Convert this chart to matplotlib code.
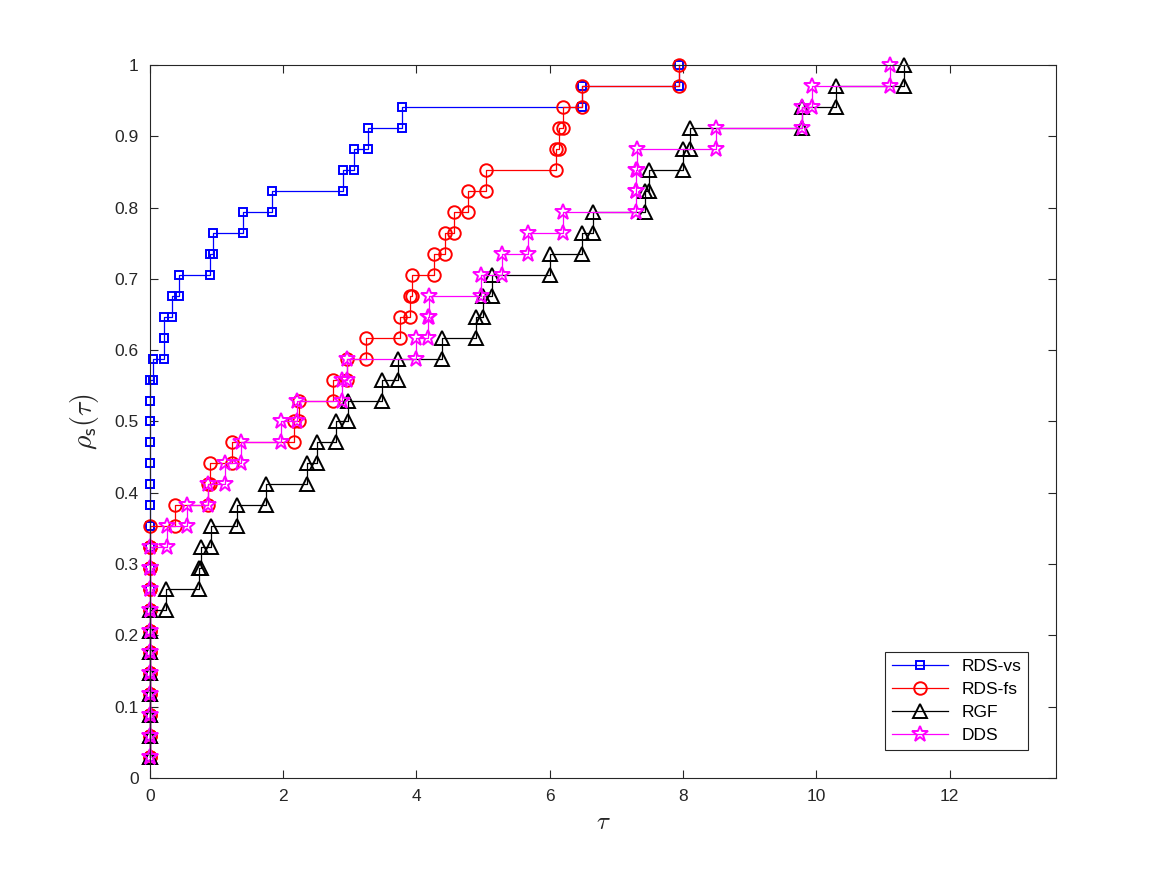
import numpy as np
import matplotlib
matplotlib.use('Agg')
import matplotlib.pyplot as plt

plt.rcParams['font.family'] = ['Liberation Sans', 'DejaVu Sans']
plt.rcParams['mathtext.fontset'] = 'cm'

n_problems = 34

# sorted performance ratios (tau) for each solver, one per problem
rds_vs = [0.0] * 19 + [0.05, 0.21, 0.21, 0.33, 0.44, 0.90, 0.95, 1.40, 1.83,
                       2.90, 3.06, 3.27, 3.78, 6.48, 7.94]
rds_fs = [0.0] * 12 + [0.38, 0.87, 0.90, 1.23, 2.16, 2.23, 2.74, 2.95, 3.24,
                       3.76, 3.91, 3.94, 4.26, 4.43, 4.56, 4.77, 5.05, 6.09,
                       6.14, 6.20, 6.48, 7.94]
rgf = [0.0] * 8 + [0.24, 0.73, 0.77, 0.92, 1.30, 1.74, 2.35, 2.51, 2.79, 2.97,
                   3.48, 3.73, 4.39, 4.90, 5.00, 5.14, 6.00, 6.48, 6.65, 7.43,
                   7.49, 8.00, 8.10, 9.78, 10.30, 11.32]
dds = [0.0] * 11 + [0.26, 0.56, 0.87, 1.12, 1.36, 1.96, 2.20, 2.88, 2.95, 3.99,
                    4.17, 4.19, 4.97, 5.29, 5.67, 6.20, 7.29, 7.30, 7.31, 8.50,
                    9.78, 9.93, 11.10]

solvers = ['RDS-vs', 'RDS-fs', 'RGF', 'DDS']
ratios = [rds_vs, rds_fs, rgf, dds]
styles = [
    dict(color='#0000ff', marker='s', ms=6),
    dict(color='#ff0000', marker='o', ms=9),
    dict(color='#000000', marker='^', ms=10),
    dict(color='#ff00ff', marker='*', ms=12),
]


def staircase(t, n):
    t = np.sort(np.asarray(t))
    levels = np.arange(1, n + 1) / n
    xs = np.repeat(t, 2)[1:]
    ys = np.repeat(levels, 2)[:-1]
    return xs, ys


fig = plt.figure(figsize=(11.67, 8.75), dpi=100)
ax = fig.add_axes([0.1285, 0.111, 0.7765, 0.8146])

for name, t, st in zip(solvers, ratios, styles):
    xs, ys = staircase(t, n_problems)
    ax.plot(xs, ys, color=st['color'], marker=st['marker'], ms=st['ms'],
            mfc='none', mec=st['color'], mew=1.4, lw=0.9, label=name,
            clip_on=False)

ax.set_xlim(0, 13.6)
ax.set_ylim(0, 1)
ax.set_xticks(np.arange(0, 13, 2))
ax.set_yticks(np.arange(0, 1.01, 0.1))
ax.set_yticklabels(['0', '0.1', '0.2', '0.3', '0.4', '0.5', '0.6', '0.7',
                    '0.8', '0.9', '1'])
ax.tick_params(direction='in', top=True, right=True, length=6, width=0.8,
               labelsize=12.5, colors='#262626', pad=8)
for sp in ax.spines.values():
    sp.set_color('#262626')
    sp.set_linewidth(0.8)

ax.set_xlabel(r'$\tau$', fontsize=18, color='#262626')
ax.set_ylabel(r'$\rho_{\mathsf{s}}(\tau)$', fontsize=20, color='#262626',
              labelpad=10)

leg = ax.legend(loc='lower right', fontsize=12.5, fancybox=False,
                framealpha=1, edgecolor='#262626', borderaxespad=1.6,
                handlelength=3.2, labelspacing=0.45)
leg.get_frame().set_linewidth(0.8)

fig.savefig('out.png', dpi=100)
